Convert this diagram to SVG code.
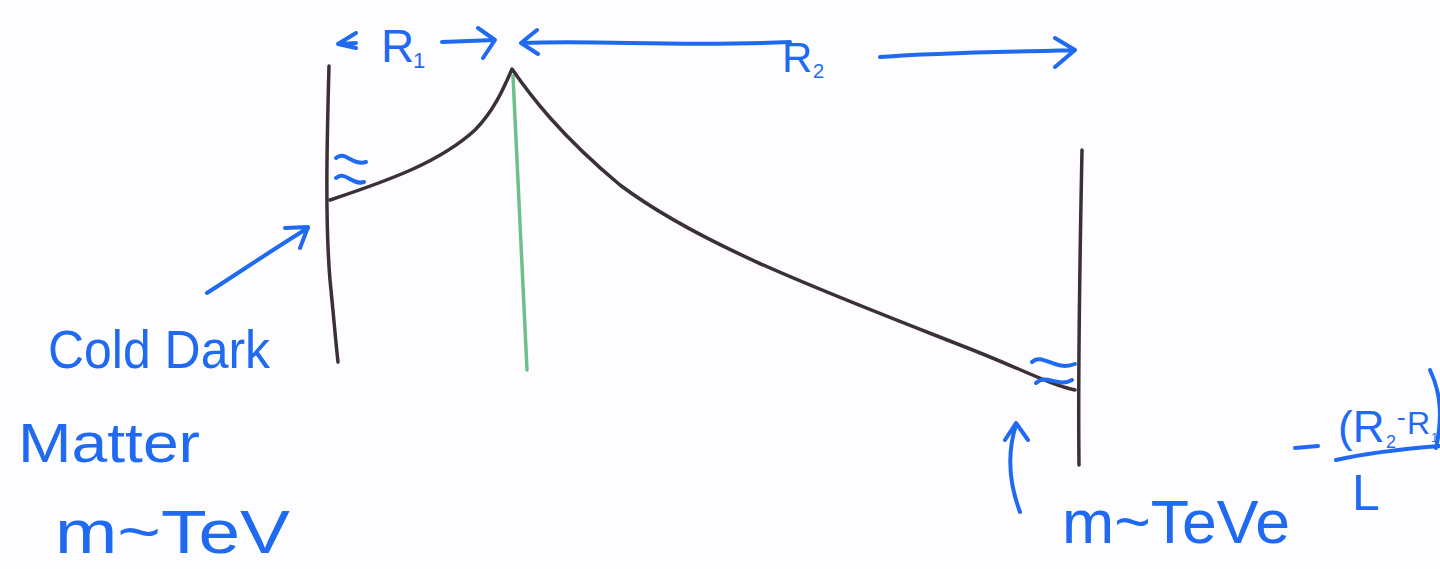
<svg xmlns="http://www.w3.org/2000/svg" width="1440" height="569" viewBox="0 0 1440 569">
<defs>
<style>
.ink{fill:none;stroke:#3b3037;stroke-width:3.5;stroke-linecap:round;stroke-linejoin:round}
.pen{fill:none;stroke:#1f6af0;stroke-width:4;stroke-linecap:round;stroke-linejoin:round}
.grn{fill:none;stroke:#6fbf8c;stroke-width:3.5;stroke-linecap:round}
.t{font-family:"Liberation Sans","DejaVu Sans",sans-serif;fill:#1f6af0}
</style>
</defs>
<rect width="1440" height="569" fill="#fdfdff"/>
<g id="left-brane"><path class="ink" d="M329,66 C327,140 325,220 330,280 C334,320 336,345 338,362"/></g>
<g id="green-line"><path class="grn" d="M513,76 L527,370"/></g>
<g id="right-brane"><path class="ink" d="M1082,150 C1080,250 1078,380 1079,465"/></g>
<g id="connectors">
<path class="ink" d="M330,200 C390,180 440,162 475,130 C495,110 505,85 512,69 C530,95 560,135 620,185 C700,245 820,290 960,345 C1020,368 1050,385 1075,390"/>
<path class="pen" d="M336,158 C345,150 352,166 366,162 M336,178 C345,170 352,186 364,182"/>
<path class="pen" d="M1032,362 C1042,352 1055,372 1075,364 M1036,383 C1046,373 1058,388 1072,380"/>
<path class="pen" d="M207,293 C240,272 275,248 308,228 M285,228 L308,227 L300,248"/>
<path class="pen" d="M1020,512 C1008,480 1008,450 1016,425 M1005,440 L1016,423 L1028,440"/>
<path class="pen" d="M356,33 L338,44 L356,48 M341,44 L356,43"/>
<path class="pen" d="M442,42 L495,40 M478,28 L495,40 L483,58"/>
<path class="pen" d="M537,30 L521,43 L538,54 M523,43 C600,40 680,47 790,42"/>
<path class="pen" d="M880,57 C950,52 1020,52 1075,50 M1055,38 L1075,50 L1055,67"/>
<path class="pen" d="M1295,448 L1318,446 M1336,460 C1370,452 1410,448 1452,445 M1430,370 C1442,395 1442,420 1436,448"/>
</g>
<g id="labels">
<text class="t" x="381" y="62" font-size="46">R</text>
<text class="t" x="413" y="68" font-size="22">1</text>
<text class="t" x="782" y="72" font-size="42">R</text>
<text class="t" x="813" y="78" font-size="20">2</text>
<text class="t" x="48" y="368" font-size="54" textLength="222" lengthAdjust="spacingAndGlyphs">Cold Dark</text>
<text class="t" x="18" y="462" font-size="56" textLength="182" lengthAdjust="spacingAndGlyphs">Matter</text>
<text class="t" x="55" y="553" font-size="62" textLength="235" lengthAdjust="spacingAndGlyphs">m~TeV</text>
<text class="t" x="1062" y="543" font-size="62" textLength="228" lengthAdjust="spacingAndGlyphs">m~TeVe</text>
<text class="t" x="1338" y="442" font-size="44">(R</text>
<text class="t" x="1386" y="448" font-size="18">2</text>
<text class="t" x="1397" y="426" font-size="26">-</text>
<text class="t" x="1407" y="434" font-size="32">R</text>
<text class="t" x="1431" y="442" font-size="13">1</text>
<text class="t" x="1352" y="510" font-size="50">L</text>
</g>
</svg>
